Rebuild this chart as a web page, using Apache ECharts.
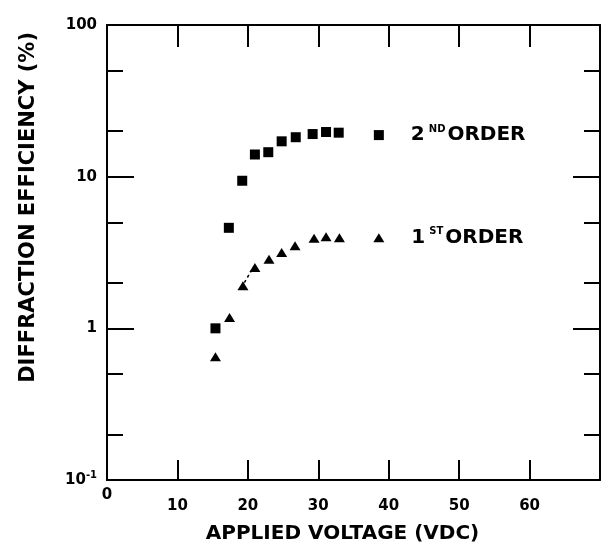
<!DOCTYPE html>
<html>
<head>
<meta charset="utf-8">
<script src="https://cdn.jsdelivr.net/npm/echarts@6/dist/echarts.min.js"></script>
<style>
  html, body { margin: 0; padding: 0; background: #fff; }
  #main { width: 603px; height: 545px; }
</style>
</head>
<body>
<div id="main"></div>
<script>
// values
var secondVolt = [15.4, 17.3, 19.2, 21.0, 22.9, 24.8, 26.8, 29.2, 31.1, 32.9, 38.6];
var secondEff  = [1.0, 4.6, 9.4, 14.0, 14.5, 17.1, 18.2, 19.1, 19.7, 19.5, 18.8];
var firstVolt  = [15.4, 17.4, 19.3, 21.0, 23.0, 24.8, 26.7, 29.4, 31.1, 33.0, 38.6];
var firstEff   = [0.65, 1.18, 1.91, 2.52, 2.85, 3.16, 3.5, 3.92, 4.02, 3.96, 3.96];
var dashVolt   = [19.5, 20.5];
var dashEff    = [2.0, 2.4];
var xLabels    = [0, 10, 20, 30, 40, 50, 60];
var xTicks     = [10, 20, 30, 40, 50, 60];
var yMajor     = [0.1, 1, 10, 100];
var yMinor     = [0.2, 0.5, 2, 5, 20, 50];

var FONT = 'DejaVu Sans';

function txt(size, extra) {
  var s = { fontFamily: FONT, fontWeight: 'bold', fontSize: size, color: '#000' };
  for (var k in extra) s[k] = extra[k];
  return s;
}

function pairs(xs, ys) {
  return xs.map(function (x, i) { return [x, ys[i]]; });
}

function withLabel(data, first, sup) {
  var last = data[data.length - 1];
  data[data.length - 1] = {
    value: last,
    label: {
      show: true,
      position: 'right',
      distance: 27,
      formatter: '{n|' + first + '}{s|' + sup + '}{o|ORDER}',
      rich: {
        n: txt(20, { padding: [0, 4, 0, 0] }),
        s: txt(10, { verticalAlign: 'top', padding: [0, 2, 12, 0] }),
        o: txt(20)
      }
    }
  };
  return data;
}

var lineStyle = { color: '#000', width: 2 };

var chart = echarts.init(document.getElementById('main'));
chart.setOption({
  animation: false,
  backgroundColor: '#fff',
  grid: { left: 107, right: 3, top: 25, bottom: 65, containLabel: false, outerBoundsMode: 'none' },
  xAxis: [
    {
      type: 'value', position: 'bottom', min: 0, max: 70,
      axisLine: { show: true, lineStyle: lineStyle },
      axisTick: { show: true, inside: true, length: 20, customValues: xTicks, lineStyle: lineStyle },
      axisLabel: {
        customValues: xLabels, margin: 8,
        formatter: function (v) { return v === 0 ? '{z|0}' : '{a|' + v + '}'; },
        rich: { a: txt(15, { padding: [11, 0, 0, 0] }), z: txt(15) }
      },
      splitLine: { show: false },
      name: 'APPLIED VOLTAGE (VDC)', nameLocation: 'middle', nameGap: 44,
      nameTextStyle: txt(20, { padding: [0, 22, 0, 0] })
    },
    {
      type: 'value', position: 'top', min: 0, max: 70,
      axisLine: { show: true, lineStyle: lineStyle },
      axisTick: { show: true, inside: true, length: 22, customValues: xTicks, lineStyle: lineStyle },
      axisLabel: { show: false },
      splitLine: { show: false }
    }
  ],
  yAxis: [
    {
      type: 'log', logBase: 10, position: 'left', min: 0.1, max: 100,
      axisLine: { show: true, lineStyle: lineStyle },
      axisTick: { show: true, inside: true, length: 27, customValues: yMajor, lineStyle: lineStyle },
      axisLabel: {
        customValues: yMajor, margin: 10,
        formatter: function (v) { return v < 0.5 ? '{b|10}{s|-1}' : '{b|' + Math.round(v) + '}'; },
        rich: {
          b: txt(15),
          s: txt(10, { verticalAlign: 'top', padding: [0, 0, 9, 0] })
        }
      },
      splitLine: { show: false }
    },
    {
      type: 'log', logBase: 10, position: 'left', min: 0.1, max: 100,
      axisLine: { show: false },
      axisTick: { show: true, inside: true, length: 16, customValues: yMinor, lineStyle: lineStyle },
      axisLabel: { show: false },
      splitLine: { show: false }
    },
    {
      type: 'log', logBase: 10, position: 'right', min: 0.1, max: 100,
      axisLine: { show: true, lineStyle: lineStyle },
      axisTick: { show: true, inside: true, length: 27, customValues: yMajor, lineStyle: lineStyle },
      axisLabel: { show: false },
      splitLine: { show: false }
    },
    {
      type: 'log', logBase: 10, position: 'right', min: 0.1, max: 100,
      axisLine: { show: false },
      axisTick: { show: true, inside: true, length: 16, customValues: yMinor, lineStyle: lineStyle },
      axisLabel: { show: false },
      splitLine: { show: false }
    }
  ],
  graphic: [
    {
      type: 'text', left: 18, top: 32, rotation: Math.PI / 2,
      style: { text: 'DIFFRACTION EFFICIENCY (%)', font: 'bold 21px "DejaVu Sans"', fill: '#000' }
    }
  ],
  series: [
    {
      name: '2nd order', type: 'scatter', xAxisIndex: 0, yAxisIndex: 0,
      symbol: 'rect', symbolSize: 10,
      itemStyle: { color: '#000', opacity: 1 },
      data: withLabel(pairs(secondVolt, secondEff), '2', 'ND')
    },
    {
      name: '1st order', type: 'scatter', xAxisIndex: 0, yAxisIndex: 0,
      symbol: 'triangle', symbolSize: [11, 9],
      itemStyle: { color: '#000', opacity: 1 },
      data: withLabel(pairs(firstVolt, firstEff), '1', 'ST')
    },
    {
      name: 'guide', type: 'line', xAxisIndex: 0, yAxisIndex: 0,
      symbol: 'none', smooth: false,
      lineStyle: { color: '#000', width: 1.5, type: [3, 3] },
      data: pairs(dashVolt, dashEff)
    }
  ]
});
</script>
</body>
</html>
